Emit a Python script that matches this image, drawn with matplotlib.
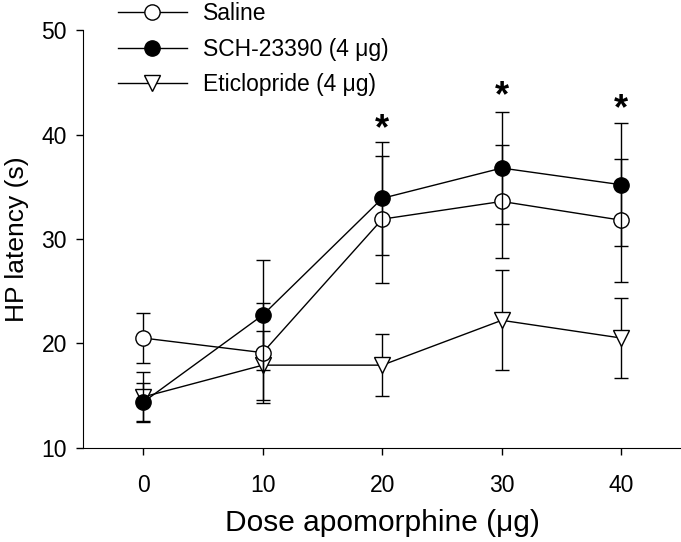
import matplotlib
matplotlib.use("Agg")
import matplotlib.pyplot as plt
from matplotlib.lines import Line2D

plt.rcParams["font.family"] = ["Liberation Sans", "DejaVu Sans"]

# Data
dose = [0, 10, 20, 30, 40]

saline = [20.5, 19.1, 31.9, 33.6, 31.8]
saline_err = [2.4, 4.8, 6.1, 5.4, 5.9]

sch = [14.35, 22.7, 33.9, 36.8, 35.2]
sch_err = [1.85, 5.3, 5.4, 5.4, 5.9]

etic = [14.85, 17.9, 17.9, 22.2, 20.5]
etic_err = [2.4, 3.3, 3.0, 4.8, 3.8]

star_doses = [20, 30, 40]
star_y = [38.8, 42.0, 40.7]

fig = plt.figure(figsize=(6.81, 5.42), dpi=100)
ax = fig.add_axes([0.1226, 0.1743, 0.8774, 0.7696])

common = dict(color="black", linewidth=1.0, elinewidth=1.0, capsize=4.8,
              capthick=1.0, markersize=11, markeredgewidth=1.0)

ax.errorbar(dose, etic, yerr=etic_err, marker="v", markerfacecolor="white",
            markeredgecolor="black", zorder=3, **common)
ax.errorbar(dose, saline, yerr=saline_err, marker="o", markerfacecolor="white",
            markeredgecolor="black", zorder=4, **common)
ax.errorbar(dose, sch, yerr=sch_err, marker="o", markerfacecolor="black",
            markeredgecolor="black", zorder=5, **common)

for x, y in zip(star_doses, star_y):
    ax.text(x, y, "*", ha="center", va="bottom", fontsize=26, fontweight="bold")

ax.set_xlim(-5, 45)
ax.set_ylim(10, 50)
ax.set_xticks(dose)
ax.set_yticks([10, 20, 30, 40, 50])
ax.spines[["top", "right"]].set_visible(False)
ax.tick_params(axis="both", direction="out", length=5, width=1.0, labelsize=16.5)
ax.tick_params(axis="x", pad=14)
ax.tick_params(axis="y", pad=7)
ax.set_xlabel("Dose apomorphine (\u03bcg)", fontsize=21.5, labelpad=9)
ax.set_ylabel("HP latency (s)", fontsize=19, labelpad=9)

handles = [
    Line2D([], [], color="black", lw=1.0, marker="o", markersize=11,
           markerfacecolor="white", markeredgecolor="black"),
    Line2D([], [], color="black", lw=1.0, marker="o", markersize=11,
           markerfacecolor="black", markeredgecolor="black"),
    Line2D([], [], color="black", lw=1.0, marker="v", markersize=11,
           markerfacecolor="white", markeredgecolor="black"),
]
labels = ["Saline", "SCH-23390 (4 \u03bcg)", "Eticlopride (4 \u03bcg)"]
fig.legend(handles, labels, loc="upper left", bbox_to_anchor=(0.173, 0.996),
           frameon=False, fontsize=16.5, handlelength=3.0, handletextpad=0.72,
           labelspacing=0.55, borderpad=0, borderaxespad=0)

fig.savefig("out.png", dpi=100)
